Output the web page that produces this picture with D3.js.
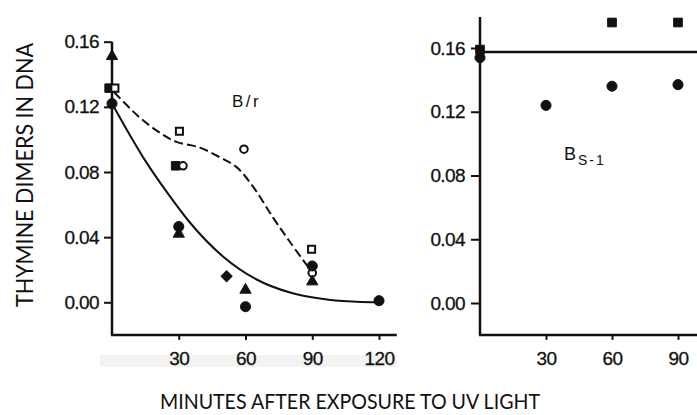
<!DOCTYPE html>
<html>
<head>
<meta charset="utf-8">
<script src="https://cdn.jsdelivr.net/npm/d3@7"></script>
<style>
  body { margin: 0; background: #fff; }
  svg { display: block; }
  .tick text { font-family: "Liberation Sans", Arial, sans-serif; font-size: 19px; letter-spacing: -0.6px; fill: #111; stroke: #111; stroke-width: 0.3px; }
  .tick line { stroke: #111; stroke-width: 2; }
</style>
</head>
<body>
<script>
// B/r panel: minutes after exposure, dimer fraction
const brFilledCircle = [[0, 0.122], [30, 0.0465], [60, -0.0027], [90, 0.0223], [120, 0.001]];
const brOpenCircle = [[31.9, 0.0838], [59.3, 0.094], [90, 0.018]];
const brFilledSquare = [[-1.3, 0.1315], [28.6, 0.0838]];
const brOpenSquare = [[1.3, 0.1315], [30.3, 0.105], [89.7, 0.0326]];
const brTriangle = [[0, 0.151], [30, 0.042], [60, 0.0076], [90, 0.0127]];
const brDiamond = [[51.5, 0.016]];
const brSolidFit = [[0, 0.122], [14, 0.089], [25, 0.067], [35, 0.049], [50, 0.028], [65, 0.014], [80, 0.006], [95, 0.002], [110, 0.0003], [120, 0]];
const brDashedFit = [[1, 0.129], [12, 0.114], [21.6, 0.104], [29, 0.0985], [39.5, 0.095], [48.5, 0.089], [56, 0.083], [63.4, 0.071], [72.4, 0.052], [80, 0.037], [88, 0.022]];

// Bs-1 panel
const bsFilledSquare = [[0, 0.159], [60, 0.176], [90, 0.176]];
const bsFilledCircle = [[0, 0.154], [30, 0.124], [60, 0.136], [90, 0.137]];
const bsLevel = 0.1575;

const yTicks = [0, 0.04, 0.08, 0.12, 0.16];
const brXTicks = [30, 60, 90, 120];
const bsXTicks = [30, 60, 90];

const W = 697, H = 415;
const svg = d3.select("body").append("svg")
    .attr("width", W)
    .attr("height", H);

// scales
const xL = d3.scaleLinear().domain([0, 120]).range([112, 379]);
const yL = d3.scaleLinear().domain([0, 0.16]).range([302.3, 41.7]);
const xR = d3.scaleLinear().domain([0, 90]).range([480, 678]);
const yR = d3.scaleLinear().domain([0, 0.16]).range([303, 48]);

const fmt = d3.format(".2f");

// faint band behind the left x labels
svg.append("rect")
    .attr("x", 100).attr("y", 355)
    .attr("width", 297).attr("height", 12)
    .attr("fill", "#f3f3f3");

function drawPanel(x, y, xTicks, xMax, yTop, ySize, yPad) {
    const g = svg.append("g");
    // axis lines
    g.append("line")
        .attr("x1", x(0)).attr("x2", x(0))
        .attr("y1", y(yTop)).attr("y2", y(-0.02))
        .attr("stroke", "#111").attr("stroke-width", 2.5);
    g.append("line")
        .attr("x1", x(0) - 1).attr("x2", x(xMax))
        .attr("y1", y(-0.02)).attr("y2", y(-0.02))
        .attr("stroke", "#111").attr("stroke-width", 2.5);

    const ya = g.append("g")
        .attr("transform", `translate(${x(0)},0)`)
        .call(d3.axisLeft(y).tickValues(yTicks).tickFormat(fmt).tickSize(ySize).tickPadding(yPad));
    ya.select(".domain").remove();

    const xa = g.append("g")
        .attr("transform", `translate(0,${y(-0.02)})`)
        .call(d3.axisBottom(x).tickValues(xTicks).tickSize(5).tickPadding(12));
    xa.select(".domain").remove();
    return g;
}

const gL = drawPanel(xL, yL, brXTicks, 128, 0.16, 8, 5);
const gR = drawPanel(xR, yR, bsXTicks, 100, 0.1795, 9, 6);

// fitted curves
const lineL = d3.line().x(d => xL(d[0])).y(d => yL(d[1])).curve(d3.curveMonotoneX);
gL.append("path")
    .datum(brSolidFit)
    .attr("d", lineL)
    .attr("fill", "none").attr("stroke", "#111").attr("stroke-width", 2);
gL.append("path")
    .datum(brDashedFit)
    .attr("d", lineL.curve(d3.curveCatmullRom))
    .attr("fill", "none").attr("stroke", "#111").attr("stroke-width", 2)
    .attr("stroke-dasharray", "9,4");

gR.append("line")
    .attr("x1", xR(0)).attr("x2", xR(100))
    .attr("y1", yR(bsLevel)).attr("y2", yR(bsLevel))
    .attr("stroke", "#111").attr("stroke-width", 2.5);

// markers
function marks(g, data, x, y, type, size, filled, rot = 0) {
    g.selectAll(null)
        .data(data)
        .enter()
        .append("path")
        .attr("transform", d => `translate(${x(d[0])},${y(d[1])}) rotate(${rot})`)
        .attr("d", d3.symbol().type(type).size(size))
        .attr("fill", filled ? "#111" : "#fff")
        .attr("stroke", "#111")
        .attr("stroke-width", filled ? 1 : 2);
}

marks(gL, brFilledSquare, xL, yL, d3.symbolSquare, 72, true);
marks(gL, brOpenSquare, xL, yL, d3.symbolSquare, 50, false);
marks(gL, brOpenCircle, xL, yL, d3.symbolCircle, 45, false);
marks(gL, brFilledCircle, xL, yL, d3.symbolCircle, 80, true);
marks(gL, brTriangle, xL, yL, d3.symbolTriangle, 55, true);
marks(gL, brDiamond, xL, yL, d3.symbolSquare, 60, true, 45);

marks(gR, bsFilledCircle, xR, yR, d3.symbolCircle, 80, true);
marks(gR, bsFilledSquare, xR, yR, d3.symbolSquare, 75, true);

// panel labels
svg.append("text")
    .attr("x", 232).attr("y", 107)
    .attr("font-family", "Liberation Sans, Arial, sans-serif")
    .attr("font-size", 17)
    .attr("letter-spacing", 2.5)
    .attr("fill", "#111")
    .text("B/r");

const bs = svg.append("text")
    .attr("x", 564).attr("y", 160)
    .attr("font-family", "Liberation Sans, Arial, sans-serif")
    .attr("font-size", 18)
    .attr("fill", "#111");
bs.append("tspan").text("B");
bs.append("tspan").attr("dx", 2).attr("dy", 5).attr("font-size", 14).attr("letter-spacing", 2).text("S-1");

// axis titles
svg.append("text")
    .attr("transform", "translate(33,175) rotate(-90)")
    .attr("text-anchor", "middle")
    .attr("font-family", "Lato, sans-serif")
    .attr("font-size", 24)
    .attr("textLength", 264)
    .attr("lengthAdjust", "spacingAndGlyphs")
    .attr("fill", "#111")
    .text("THYMINE DIMERS IN DNA");

svg.append("text")
    .attr("x", 350).attr("y", 409)
    .attr("text-anchor", "middle")
    .attr("font-family", "Lato, sans-serif")
    .attr("font-size", 22)
    .attr("textLength", 380)
    .attr("lengthAdjust", "spacingAndGlyphs")
    .attr("fill", "#111")
    .text("MINUTES AFTER EXPOSURE TO UV LIGHT");
</script>
</body>
</html>
